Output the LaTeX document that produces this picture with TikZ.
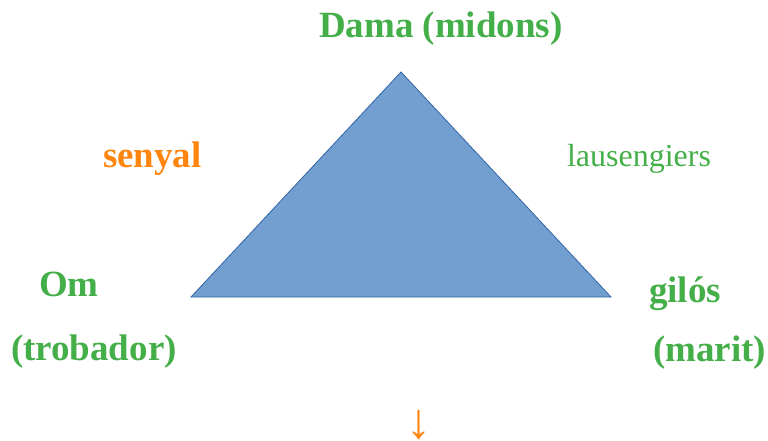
\documentclass[tikz,border=0pt]{standalone}
\usepackage{fontspec}
\setmainfont{Liberation Serif}
\definecolor{lgreen}{RGB}{68,175,72}
\definecolor{lorange}{RGB}{255,133,15}
\definecolor{trifill}{RGB}{114,159,207}
\definecolor{triline}{RGB}{52,101,164}
\tikzset{
  lab/.style={anchor=base west, inner sep=0pt, outer sep=0pt, font=\fontsize{37}{44}\selectfont\bfseries, text=lgreen},
  labreg/.style={anchor=base west, inner sep=0pt, outer sep=0pt, font=\fontsize{32}{38}\selectfont, text=lgreen},
  labor/.style={lab, text=lorange},
}
\begin{document}
\begin{tikzpicture}[x=1pt,y=-1pt]
\useasboundingbox (0,0) rectangle (768,441);
\coordinate (apex) at (401,72);
\coordinate (bl) at (191,297);
\coordinate (br) at (611,297);
\filldraw[fill=trifill, draw=triline, line width=0.8pt, line join=miter] (apex) -- (br) -- (bl) -- cycle;
\node[lab] (dama) at (319,38) {Dama (midons)};
\node[labor] (senyal) at (103,167) {senyal};
\node[labreg] (laus) at (567,166) {lausengiers};
\node[lab] (om) at (39,296) {Om};
\node[lab] (trob) at (11,360) {(trobador)};
\node[lab] (gilos) at (649,302) {gilós};
\node[lab] (marit) at (653,361) {(marit)};
\node[anchor=south, inner sep=0pt, font=\fontsize{50}{60}\selectfont, text=lorange] (arr) at (419,440) {↓};
\end{tikzpicture}
\end{document}
